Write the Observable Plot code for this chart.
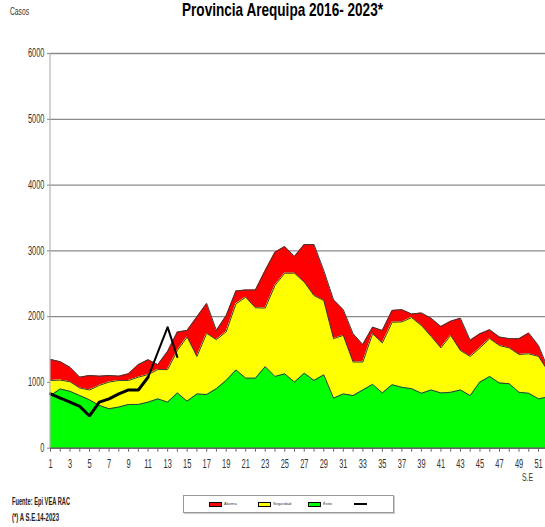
<!DOCTYPE html>
<html>
<head>
<meta charset="utf-8">
<script src="https://cdn.jsdelivr.net/npm/d3@7"></script>
<script src="https://cdn.jsdelivr.net/npm/@observablehq/plot@0.6"></script>
<style>
  body { margin: 0; background: #fff; overflow: hidden; }
  #wrap { position: relative; width: 545px; height: 527px; overflow: hidden;
          font-family: "Liberation Sans", Arial, sans-serif; color: #222; }
  .fit { position: absolute; display: inline-block; white-space: nowrap; transform-origin: left top; }
  #title { left: 182px; top: 0px; font-weight: bold; font-size: 19px; line-height: 19px; color: #000; }
  #casos { left: 10px; top: 6px; font-size: 11px; line-height: 11px; color: #333; }
  #chart { position: absolute; left: 0; top: 40px; }
  #se { left: 522px; top: 472px; font-size: 11px; line-height: 11px; color: #333; }
  #fuente { left: 12px; top: 496px; font-size: 11px; line-height: 11px; font-weight: bold; color: #222; }
  #nota { left: 12px; top: 512px; font-size: 11px; line-height: 11px; font-weight: bold; color: #222; }
  #legend { position: absolute; left: 183px; top: 495px; width: 209px; height: 16px; border: 1px solid #999;
            box-shadow: 1px 1px 0 #ccc; background: #fff; }
  .item { position: absolute; top: 5px; height: 6px; display: flex; align-items: center; }
  .sw { width: 11px; height: 3px; border: 1px solid #000; }
  .ln { width: 13px; height: 2px; background: #000; }
  .lb { font-size: 4px; line-height: 4px; margin-left: 2px; color: #333; }
</style>
</head>
<body>
<div id="wrap">
  <div id="title" class="fit"></div>
  <div id="casos" class="fit"></div>
  <div id="chart"></div>
  <div id="se" class="fit"></div>
  <div id="fuente" class="fit"></div>
  <div id="nota" class="fit"></div>
  <div id="legend"></div>
</div>
<script>
// ---- Data ----
const titleText = "Provincia Arequipa  2016- 2023*";
const yLabel = "Casos";
const xLabel = "S.E";
const sourceText = "Fuente: Epi VEA RAC";
const noteText = "(*) A S.E.14-2023";

const weeks = d3.range(1, 53);
const xTickLabels = d3.range(1, 52, 2);
const yTicks = [0, 1000, 2000, 3000, 4000, 5000, 6000];

const seriesNames = ["Alarma", "Seguridad", "Éxito", "2023"];
const seriesColors = ["#ff0000", "#ffff00", "#00ff00", "#000000"];

// upper boundary of the green band (Éxito)
const exito = [800, 900, 865, 800, 735, 650, 600, 625, 665, 665, 700, 750, 700, 840, 715, 825, 815, 905, 1030, 1190,
  1065, 1065, 1240, 1090, 1130, 1005, 1140, 1030, 1115, 760, 825, 800, 885, 970, 840, 965, 925, 905, 835, 885,
  840, 850, 885, 800, 1005, 1090, 990, 980, 850, 835, 750, 780];
// upper boundary of the yellow band (Seguridad)
const seguridad = [1030, 1035, 1010, 915, 885, 955, 1005, 1030, 1030, 1080, 1120, 1195, 1195, 1485, 1690, 1395, 1745, 1650, 1770, 2195,
  2295, 2135, 2130, 2475, 2660, 2660, 2525, 2320, 2245, 1665, 1715, 1310, 1310, 1740, 1600, 1915, 1920, 1985, 1865, 1700,
  1525, 1715, 1485, 1395, 1525, 1665, 1560, 1525, 1425, 1435, 1395, 1165];
// upper boundary of the red band (Alarma)
const alarma = [1350, 1315, 1230, 1080, 1105, 1095, 1105, 1095, 1130, 1270, 1345, 1270, 1470, 1765, 1790, 1995, 2200, 1790, 2015, 2390,
  2405, 2405, 2700, 2980, 3065, 2915, 3095, 3095, 2700, 2255, 2105, 1740, 1575, 1840, 1790, 2095, 2105, 2040, 2055, 1975,
  1850, 1930, 1975, 1640, 1740, 1800, 1690, 1665, 1665, 1750, 1560, 1200];
// 2023 cases, weeks 1-14
const y2023 = [825, 760, 700, 635, 490, 700, 750, 825, 885, 885, 1080, 1460, 1840, 1385];

// ---- Build tables ----
const canal = weeks.map((w, i) => ({ week: w, exito: exito[i], seguridad: seguridad[i], alarma: alarma[i] }));
const cur = y2023.map((v, i) => ({ week: i + 1, casos: v }));

const edge = "#3a3a3a";

const chart = Plot.plot({
  width: 545,
  height: 450,
  marginTop: 13,
  marginBottom: 42.3,
  marginLeft: 50,
  marginRight: 0,
  style: { fontFamily: '"Liberation Sans", Arial, sans-serif', fontSize: "12px", color: "#333", background: "transparent" },
  x: { type: "linear", domain: [1, 52], range: [50, 547.8] },
  y: { domain: [0, 6000] },
  marks: [
    Plot.gridY(yTicks, { stroke: "#8a8a8a", strokeOpacity: 1, strokeWidth: 1.3 }),
    Plot.areaY(canal, { x: "week", y1: "seguridad", y2: "alarma", fill: seriesColors[0], curve: "linear" }),
    Plot.areaY(canal, { x: "week", y1: "exito", y2: "seguridad", fill: seriesColors[1], curve: "linear" }),
    Plot.areaY(canal, { x: "week", y1: 0, y2: "exito", fill: seriesColors[2], curve: "linear" }),
    Plot.lineY(canal, { x: "week", y: "alarma", stroke: edge, strokeWidth: 1 }),
    Plot.lineY(canal, { x: "week", y: "seguridad", stroke: edge, strokeWidth: 1 }),
    Plot.lineY(canal, { x: "week", y: "exito", stroke: edge, strokeWidth: 1 }),
    Plot.lineY(cur.filter(d => d.week <= 11), { x: "week", y: "casos", stroke: "#000", strokeWidth: 3, strokeLinejoin: "miter" }),
    Plot.lineY(cur.filter(d => d.week >= 11), { x: "week", y: "casos", stroke: "#000", strokeWidth: 2 }),
    Plot.ruleX([1], { stroke: "#b5b5b5", strokeWidth: 1.2, dx: -0.5 }),
    Plot.ruleY([0], { stroke: "#555", strokeWidth: 1.2 }),
    Plot.axisY({ ticks: yTicks, tickSize: 3, tickPadding: 3, stroke: "#888", label: null, tickFormat: d => String(d) }),
    Plot.axisX({ ticks: weeks, tickSize: 4, tickPadding: 7, stroke: "#666", label: null,
      tickFormat: d => (xTickLabels.includes(d) ? String(d) : "") })
  ]
});
document.getElementById("chart").appendChild(chart);

// condense the tick label glyphs horizontally (narrow font look of the reference)
chart.querySelectorAll('g[aria-label$="tick label"] text').forEach(t => {
  const len = t.getComputedTextLength();
  if (len > 0) {
    t.setAttribute("textLength", (len * 0.62).toFixed(2));
    t.setAttribute("lengthAdjust", "spacingAndGlyphs");
  }
});

function fit(id, text, width) {
  const el = document.getElementById(id);
  el.textContent = text;
  const w = el.getBoundingClientRect().width;
  el.style.transform = `scaleX(${width / w})`;
}
fit("title", titleText, 201);
fit("casos", yLabel, 19);
fit("se", xLabel, 11);
fit("fuente", sourceText, 58);
fit("nota", noteText, 47);

// legend
const legend = document.getElementById("legend");
const lefts = [25, 74, 124, 170];
seriesNames.forEach((name, i) => {
  const item = document.createElement("div");
  item.className = "item";
  item.style.left = lefts[i] + "px";
  const sw = document.createElement("div");
  if (i < 3) { sw.className = "sw"; sw.style.background = seriesColors[i]; }
  else { sw.className = "ln"; }
  item.appendChild(sw);
  if (i < 3) {
    const lb = document.createElement("span");
    lb.className = "lb";
    lb.textContent = name;
    item.appendChild(lb);
  }
  legend.appendChild(item);
});
</script>
</body>
</html>
